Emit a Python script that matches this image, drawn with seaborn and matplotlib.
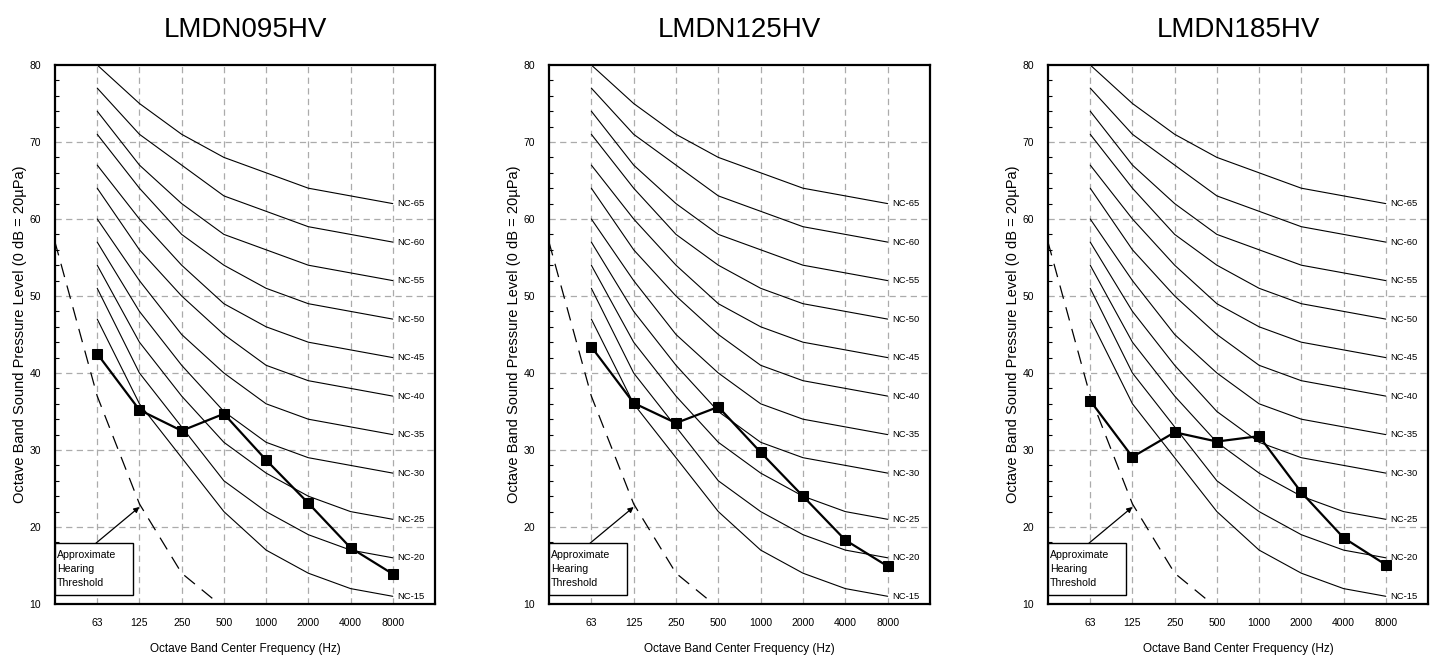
import matplotlib
matplotlib.use("Agg")
import matplotlib.pyplot as plt
import seaborn as sns
import pandas as pd
import numpy as np

sns.set_style("white")
plt.rcParams["font.family"] = ["Liberation Sans", "DejaVu Sans"]
plt.rcParams["text.color"] = "black"
plt.rcParams["axes.labelcolor"] = "black"
plt.rcParams["xtick.color"] = "black"
plt.rcParams["ytick.color"] = "black"

# Octave band centre frequencies (Hz)
bands = ["63", "125", "250", "500", "1000", "2000", "4000", "8000"]

# Noise criterion reference curves (dB)
nc_curves = {
    "NC-65": [80, 75, 71, 68, 66, 64, 63, 62],
    "NC-60": [77, 71, 67, 63, 61, 59, 58, 57],
    "NC-55": [74, 67, 62, 58, 56, 54, 53, 52],
    "NC-50": [71, 64, 58, 54, 51, 49, 48, 47],
    "NC-45": [67, 60, 54, 49, 46, 44, 43, 42],
    "NC-40": [64, 56, 50, 45, 41, 39, 38, 37],
    "NC-35": [60, 52, 45, 40, 36, 34, 33, 32],
    "NC-30": [57, 48, 41, 35, 31, 29, 28, 27],
    "NC-25": [54, 44, 37, 31, 27, 24, 22, 21],
    "NC-20": [51, 40, 33, 26, 22, 19, 17, 16],
    "NC-15": [47, 36, 29, 22, 17, 14, 12, 11],
}

# Approximate hearing threshold, from 31.5 Hz up to 500 Hz
threshold_bands = ["31.5", "63", "125", "250", "500"]
threshold_levels = [57, 37, 23, 14, 9.5]

# Measured sound pressure levels per model
models = ["LMDN095HV", "LMDN125HV", "LMDN185HV"]
lmdn095hv = [42.5, 35.2, 32.5, 34.7, 28.7, 23.1, 17.3, 13.9]
lmdn125hv = [43.4, 36.1, 33.5, 35.6, 29.7, 24.0, 18.3, 14.9]
lmdn185hv = [36.4, 29.1, 32.3, 31.1, 31.8, 24.5, 18.6, 15.1]
measured = [lmdn095hv, lmdn125hv, lmdn185hv]

W, H = 1437, 662
fig = plt.figure(figsize=(W / 100, H / 100), dpi=100)

lefts = [55, 549, 1048]
widths = [380, 381, 380]
bottom_px, top_px = 604, 65

band_pos = np.arange(1, len(bands) + 1)
thr_pos = np.arange(0, len(threshold_bands))
grid_kw = dict(color="#ababab", lw=0.9, ls=(0, (5, 3.5)), zorder=0)

for i, (left, width) in enumerate(zip(lefts, widths)):
    ax = fig.add_axes([left / W, (H - bottom_px) / H, width / W, (bottom_px - top_px) / H])
    ax.set_xlim(0, 9)
    ax.set_ylim(10, 80)

    # grid
    for y in range(20, 80, 10):
        ax.axhline(y, **grid_kw)
    for x in band_pos:
        ax.axvline(x, **grid_kw)

    # NC curves with labels
    for name, vals in nc_curves.items():
        sns.lineplot(x=band_pos, y=vals, ax=ax, color="black", lw=0.8, zorder=2)
        ax.text(band_pos[-1] + 0.1, vals[-1], name, fontsize=6.8, ha="left",
                va="center", zorder=3)

    # hearing threshold
    sns.lineplot(x=thr_pos, y=threshold_levels, ax=ax, color="black", lw=0.9,
                 zorder=2, linestyle=(0, (11, 7)))

    # measured data
    df = pd.DataFrame({"pos": band_pos, "level": measured[i]})
    sns.lineplot(data=df, x="pos", y="level", ax=ax, color="black", lw=1.6,
                 marker="s", markersize=7.5, markeredgecolor="black",
                 markerfacecolor="black", zorder=4)

    # threshold callout
    ax.add_patch(plt.Rectangle((0, 11.2), 1.85, 6.7, fill=True, fc="white",
                               ec="black", lw=1.0, zorder=4.5))
    ax.text(0.05, 14.55, "Approximate\nHearing\nThreshold", fontsize=7.6,
            ha="left", va="center", linespacing=1.5, zorder=5)
    ax.annotate("", xy=(2, 22.6), xytext=(0.97, 17.9),
                arrowprops=dict(arrowstyle="-|>", color="black", lw=0.9,
                                mutation_scale=8, shrinkA=0, shrinkB=0),
                zorder=5)

    ax.set_xticks(band_pos)
    ax.set_xticklabels(bands)
    ax.set_yticks(range(10, 81, 10))
    ax.set_yticks(range(10, 81, 2), minor=True)
    ax.tick_params(axis="x", length=0, pad=10, labelsize=7.5)
    ax.tick_params(axis="y", which="major", length=0, pad=10, labelsize=7.5)
    ax.tick_params(axis="y", which="minor", direction="in", length=3, width=0.8,
                   left=True)
    for s in ax.spines.values():
        s.set_visible(True)
        s.set_color("black")
        s.set_linewidth(1.6)

    ax.set_xlabel("Octave Band Center Frequency (Hz)", fontsize=8.5, labelpad=11)
    ax.set_ylabel("Octave Band Sound Pressure Level (0 dB = 20\u00b5Pa)", fontsize=10.5,
                  labelpad=2)
    ax.set_title(models[i], fontsize=20, pad=20)

fig.savefig("out.png", dpi=100)
